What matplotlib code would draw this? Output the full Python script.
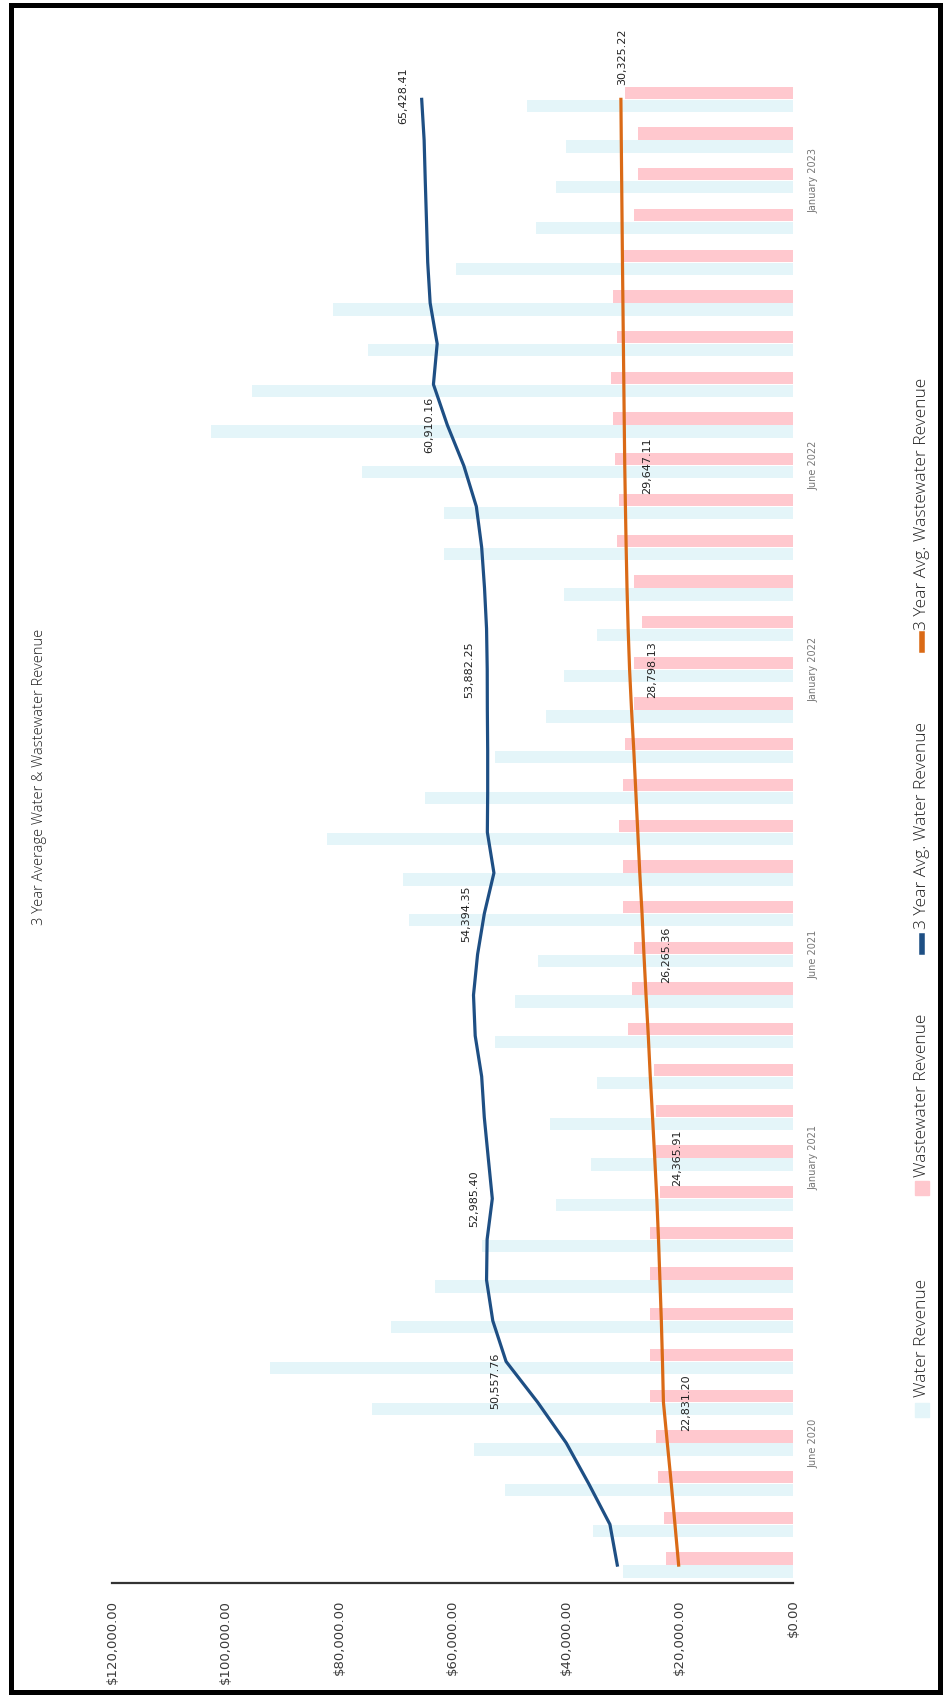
import numpy as np
import matplotlib
matplotlib.use("Agg")
import matplotlib.pyplot as plt
from matplotlib.patches import Rectangle
from matplotlib.lines import Line2D

# monthly values, Mar 2020 -> Mar 2023 (index 0..36)
water = [29880, 35280, 50760, 56160, 74160, 92160, 70920, 63000, 54720, 41760,
         35640, 42840, 34560, 52560, 48960, 45000, 67680, 68760, 82080, 64800,
         52560, 43560, 40320, 34560, 40320, 61560, 61560, 75960, 102600, 95400,
         74880, 81000, 59400, 45360, 41760, 40000, 46800]
wastewater = [22320, 22680, 23760, 24120, 25200, 25200, 25200, 25200, 25200, 23400,
              24120, 24120, 24480, 29160, 28440, 28080, 29880, 29880, 30600, 29880,
              29520, 28080, 28080, 26640, 28080, 30960, 30600, 31320, 31680, 32040,
              30960, 31680, 30240, 28080, 27360, 27360, 29520]
avg_water = [30960, 32260, 36000, 39960, 45000, 50557.76, 52900, 54000, 53900, 52985.40,
             53700, 54400, 54860, 56000, 56300, 55580, 54394.35, 52700, 53860, 53800,
             53800, 53860, 53882.25, 54000, 54360, 54860, 55800, 58000, 60910.16, 63360,
             62700, 63940, 64370, 64580, 64800, 65000, 65428.41]
avg_wastewater = [20150, 20800, 21450, 22150, 22831.20, 23000, 23200, 23450, 23700, 24000,
                  24365.91, 24750, 25150, 25500, 25900, 26265.36, 26600, 27000, 27350, 27700,
                  28050, 28450, 28798.13, 29050, 29250, 29400, 29530, 29647.11, 29730, 29810,
                  29890, 29970, 30050, 30120, 30190, 30260, 30325.22]

tick_idx = [3, 10, 15, 22, 27, 34]
tick_labels = ["June 2020", "January 2021", "June 2021", "January 2022", "June 2022", "January 2023"]

value_ticks = [0, 20000, 40000, 60000, 80000, 100000, 120000]

water_lab_idx = [5, 9, 16, 22, 28, 36]
ww_lab_idx = [4, 10, 15, 22, 27, 36]

W, H = 948, 1701
fig = plt.figure(figsize=(W / 100, H / 100), dpi=100)
fig.patch.set_facecolor("white")

ax = fig.add_axes([112 / W, 1 - 1583 / H, 681 / W, 1504 / H])
idx = np.arange(len(water))

water_col = "#E4F5F9"
ww_col = "#FFC8CE"
ax.barh(idx - 0.16, water, height=0.3, color=water_col)
ax.barh(idx + 0.16, wastewater, height=0.3, color=ww_col)
ax.plot(avg_water, idx, color="#1E4F84", lw=2.3)
ax.plot(avg_wastewater, idx, color="#DA6A16", lw=2.3)

ax.set_xlim(120000, 0)
ax.set_ylim(-0.44, 36.5)

ax.set_xticks(value_ticks)
ax.set_xticklabels(["${:,.2f}".format(v) for v in value_ticks], rotation=90,
                   fontsize=9.5, color="#3a3a3a")
ax.tick_params(axis="x", length=0, pad=12)

ax.yaxis.tick_right()
ax.set_yticks(tick_idx)
ax.set_yticklabels(tick_labels, rotation=90, va="center", fontsize=7, color="#777777")
ax.tick_params(axis="y", length=0, pad=11)

for s in ["top", "left", "right"]:
    ax.spines[s].set_visible(False)
ax.spines["bottom"].set_color("#333333")
ax.spines["bottom"].set_linewidth(1.6)

# data labels
for i in water_lab_idx:
    dy = -14 if i == 5 else (3 if i == 36 else 0)
    dx = -8 if i == 5 else -13
    ax.annotate("{:,.2f}".format(avg_water[i]), xy=(avg_water[i], i), xytext=(dx, dy),
                textcoords="offset points", rotation=90, ha="center", va="center",
                fontsize=8, color="#222222")
for i in ww_lab_idx:
    if i == 36:
        dx, dy = 1, 31
    else:
        dx, dy = 16, 0
    ax.annotate("{:,.2f}".format(avg_wastewater[i]), xy=(avg_wastewater[i], i), xytext=(dx, dy),
                textcoords="offset points", rotation=90, ha="center", va="center",
                fontsize=8, color="#222222")

# title
fig.text(40 / W, 1 - 777 / H, "3 Year Average Water & Wastewater Revenue", rotation=90,
         ha="center", va="center", fontsize=10.5, family="Open Sans", weight="light",
         color="#222222")

# legend, rotated like the rest of the page
lx = 922 / W
items = [("Water Revenue", water_col, "box", 1410, 1397),
         ("Wastewater Revenue", ww_col, "box", 1188, 1177),
         ("3 Year Avg. Water Revenue", "#1E4F84", "line", 944, 929),
         ("3 Year Avg. Wastewater Revenue", "#DA6A16", "line", 642, 630)]
for name, col, kind, my, ty in items:
    if kind == "box":
        fig.add_artist(Rectangle(((922 - 7) / W, 1 - (my + 7) / H), 14 / W, 14 / H,
                                 transform=fig.transFigure, color=col))
    else:
        fig.add_artist(Line2D([lx, lx], [1 - (my + 8) / H, 1 - (my - 8) / H],
                              transform=fig.transFigure, color=col, lw=4))
    fig.text(lx, 1 - ty / H, name, rotation=90, ha="center", va="bottom",
             fontsize=12.5, family="Open Sans", weight="light", color="#222222")

# scanned page border
fig.add_artist(Rectangle((11 / W, 1 - 1692 / H), 929 / W, 1687 / H, transform=fig.transFigure,
                         fill=False, edgecolor="black", lw=3.6))

fig.savefig("out.png", dpi=100)
